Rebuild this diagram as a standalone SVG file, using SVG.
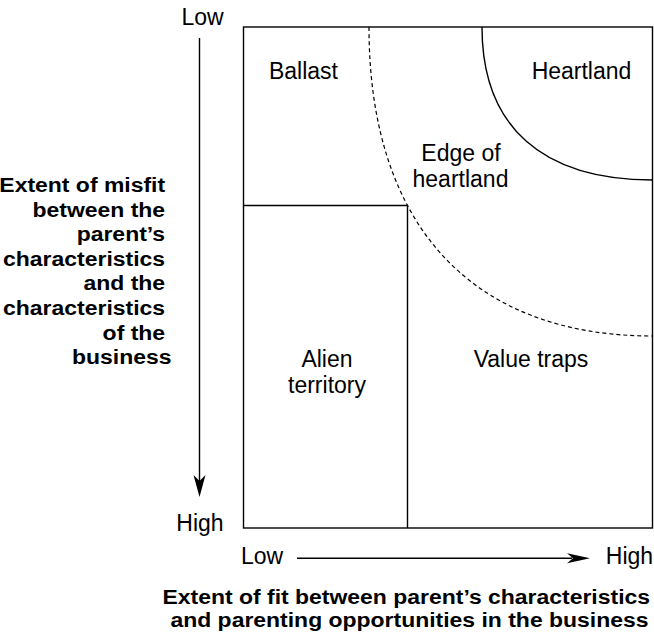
<svg xmlns="http://www.w3.org/2000/svg" width="654" height="642" viewBox="0 0 654 642">
<style>
.t{font-family:"Liberation Sans",Arial,Helvetica,sans-serif;font-size:23px;fill:#000;text-anchor:middle}
.b{font-family:"Liberation Sans",Arial,Helvetica,sans-serif;font-size:20.5px;font-weight:bold;fill:#000}
.ln{stroke:#000;stroke-width:1.4;fill:none}
.dash{stroke-dasharray:4 3;stroke-width:1.2}
.ah{fill:#000;stroke:none}
</style>
<rect width="654" height="642" fill="#fff"/>
<g id="frame">
<rect class="ln" x="243.5" y="27" width="409" height="501"/>
</g>
<g id="boundaries">
<path class="ln" d="M243.5 205.5 H407.5 V528"/>
<path class="ln" d="M482 27 C482 126.5 541.9 180 652.5 180"/>
<path class="ln dash" d="M369 27 C369 224.8 471.2 336 652.5 336"/>
</g>
<g id="ballast"><text class="t" x="303.5" y="78.5">Ballast</text></g>
<g id="heartland"><text class="t" x="581.5" y="78.5">Heartland</text></g>
<g id="edge-of-heartland"><text class="t" x="461"><tspan x="461" y="161">Edge of</tspan><tspan x="460.5" y="187">heartland</tspan></text></g>
<g id="alien-territory"><text class="t"><tspan x="327" y="367">Alien</tspan><tspan x="327" y="393">territory</tspan></text></g>
<g id="value-traps"><text class="t" x="531" y="367">Value traps</text></g>
<g id="y-axis">
<text class="t" x="202.5" y="25">Low</text>
<text class="t" x="200" y="531">High</text>
<text class="b" text-anchor="end" transform="scale(1.12 1)">
<tspan x="153.1" y="192">Extent of misfit</tspan>
<tspan x="153.1" y="216.6">between the</tspan>
<tspan x="153.1" y="241.2">parent’s</tspan>
<tspan x="153.1" y="265.8">characteristics</tspan>
<tspan x="153.1" y="290.4">and the</tspan>
<tspan x="153.1" y="315">characteristics</tspan>
<tspan x="153.1" y="339.6">of the</tspan>
<tspan x="153.1" y="364.2">business</tspan>
</text>
</g>
<g id="x-axis">
<text class="t" x="262" y="563.5">Low</text>
<text class="t" x="629.5" y="563.5">High</text>
<text class="b" text-anchor="middle" transform="scale(1.12 1)">
<tspan x="365.6" y="604">Extent of fit between parent’s characteristics</tspan>
<tspan x="365.6" y="627">and parenting opportunities in the business</tspan>
</text>
</g>
<g id="connectors">
<path class="ln" d="M199.5 38 V482"/>
<path class="ah" d="M199.5 497 L193.5 475 L199.5 481 L205.5 475 Z"/>
<path class="ln" d="M297 558.3 H572"/>
<path class="ah" d="M590 558.3 L567 553.3 L573 558.3 L567 563.3 Z"/>
</g>
</svg>
